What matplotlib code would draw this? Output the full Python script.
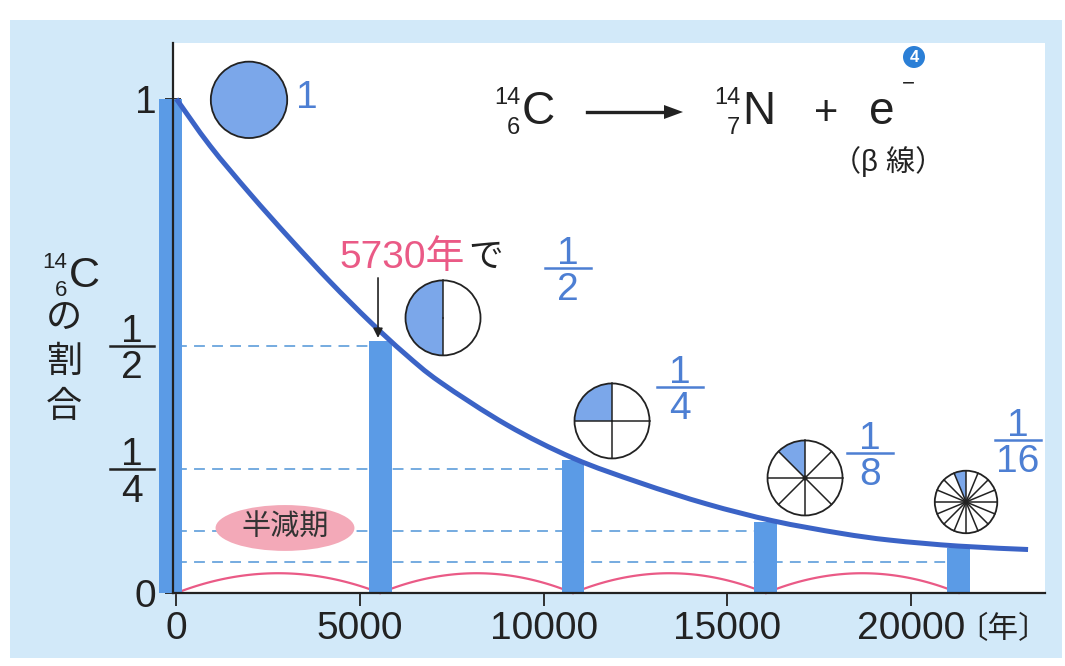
import math
import numpy as np
import matplotlib
matplotlib.use("Agg")
import matplotlib.pyplot as plt
from matplotlib import transforms as mt
from matplotlib.patches import Wedge, Circle, Ellipse, Rectangle, Polygon, PathPatch
from matplotlib.path import Path
from matplotlib.lines import Line2D

plt.rcParams['font.family'] = ['Liberation Sans', 'Noto Sans CJK JP', 'DejaVu Sans']

# ---------------- data ----------------
curve_years = [0, 918, 2007, 3096, 4185, 5274, 6227, 7179, 9004, 10800,
               12625, 14449, 16246, 18070, 19431, 21283, 23189]
curve_values = [1.0, 0.905, 0.808, 0.717, 0.630, 0.549, 0.484, 0.427, 0.340,
                0.273, 0.223, 0.180, 0.146, 0.121, 0.107, 0.095, 0.088]
bar_years = [-150, 5550, 10800, 16050, 21300]
bar_values = [1.0, 0.51, 0.27, 0.143, 0.091]
level_values = [1 / 2, 1 / 4, 1 / 8, 1 / 16]
pie_parts = [1, 2, 4, 8, 16]
x_ticks = [0, 5000, 10000, 15000, 20000]
x_tick_labels = ['0', '5000', '10000', '15000', '20000']
y_ticks = [0, 1 / 16, 1 / 8, 1 / 4, 1 / 2, 1]
y_tick_labels = ['0', '', '', '', '', '1']

# ---------------- style ----------------
LIGHT = '#d2e9f9'
BAR = '#5b9be6'
CURVE = '#3b63c6'
FILL = '#7ba7ea'
FRAC = '#4d7fd3'
PINK = '#ea5a86'
PINK_FILL = '#f3a9b8'
DASH = '#6aa5dd'
TEXT = '#222222'

W, H = 1065, 666
fig = plt.figure(figsize=(W / 100, H / 100), dpi=100)
fig.patch.set_facecolor('white')


def P(px, py):
    return (px / W, 1 - py / H)


fig.patches.append(Rectangle(P(10, 658), (1062 - 10) / W, (658 - 20) / H,
                             transform=fig.transFigure, facecolor=LIGHT,
                             edgecolor='none', zorder=-5))

ax = fig.add_axes([173 / W, 1 - 593 / H, (1045 - 173) / W, (593 - 43) / H])
ax.set_facecolor('white')
ax.set_zorder(1)
ax.set_xlim(-90, 23650)
ax.set_ylim(0, 1.113)
for s in ['top', 'right']:
    ax.spines[s].set_visible(False)
for s in ['left', 'bottom']:
    ax.spines[s].set_linewidth(1.6)
    ax.spines[s].set_color(TEXT)
    ax.spines[s].set_zorder(6)

ax.set_xticks(x_ticks)
ax.set_xticklabels(x_tick_labels)
ax.set_yticks(y_ticks)
ax.set_yticklabels(y_tick_labels)
ax.tick_params(axis='x', direction='out', length=9, width=1.3, pad=4,
               labelsize=28, colors=TEXT)
ax.tick_params(axis='y', direction='inout', length=12, width=1.3, pad=6,
               labelsize=28, colors=TEXT)

# dashed guide levels, each running to its bar
for lv, bx in zip(level_values, bar_years[1:]):
    ax.plot([0, bx], [lv, lv], color=DASH, lw=1.3, dashes=(6, 4), zorder=1)

# pink arcs between bars (half-life brackets)
arc_h = 0.04
for a, b in zip(bar_years[:-1], bar_years[1:]):
    a2 = max(a, 0)
    xs = [a2 + (b - a2) * i / 60 for i in range(61)]
    ys = [4 * arc_h * ((x - a2) / (b - a2)) * (1 - (x - a2) / (b - a2)) for x in xs]
    ax.plot(xs, ys, color=PINK, lw=1.6, zorder=2, clip_on=False)

# bars
ax.bar(bar_years, bar_values, width=620, color=BAR, zorder=3, clip_on=False)

# decay curve, drawn as a smooth Bezier chain through the read points
pts = np.column_stack([curve_years, curve_values]).astype(float)
verts = [pts[0]]
codes = [Path.MOVETO]
for i in range(len(pts) - 1):
    p0 = pts[i - 1] if i > 0 else pts[i]
    p1, p2 = pts[i], pts[i + 1]
    p3 = pts[i + 2] if i + 2 < len(pts) else pts[i + 1]
    verts += [p1 + (p2 - p0) / 6, p2 - (p3 - p1) / 6, p2]
    codes += [Path.CURVE4] * 3
ax.add_patch(PathPatch(Path(verts, codes), fc='none', ec=CURVE, lw=3.6,
                       zorder=5, capstyle='butt'))


def local_tr(x, y, base):
    return mt.Affine2D().scale(fig.dpi / 72) + mt.ScaledTranslation(x, y, base)


def pie_icon(x, y, n, r):
    tr = local_tr(x, y, ax.transData)
    if n == 1:
        ax.add_patch(Circle((0, 0), r, fc=FILL, ec=TEXT, lw=1.3,
                            transform=tr, zorder=7, clip_on=False))
        return
    ax.add_patch(Circle((0, 0), r, fc='white', ec='none', transform=tr,
                        zorder=7, clip_on=False))
    ax.add_patch(Wedge((0, 0), r, 90, 90 + 360 / n, fc=FILL, ec='none',
                       transform=tr, zorder=7, clip_on=False))
    for k in range(n):
        ang = math.radians(90 + k * 360 / n)
        ax.add_line(Line2D([0, r * math.cos(ang)], [0, r * math.sin(ang)],
                           color=TEXT, lw=1.1, transform=tr, zorder=8,
                           clip_on=False))
    if n >= 8:
        ax.add_patch(Circle((0, 0), 1.8, fc=TEXT, ec='none', transform=tr,
                            zorder=8, clip_on=False))
    ax.add_patch(Circle((0, 0), r, fc='none', ec=TEXT, lw=1.3, transform=tr,
                        zorder=8, clip_on=False))


def frac(x, y, num, den, base, color, fs, w, lw=1.8, gap=3):
    tr = local_tr(x, y, base)
    ax.add_line(Line2D([-w / 2, w / 2], [0, 0], color=color, lw=lw,
                       transform=tr, zorder=9, clip_on=False))
    ax.text(0, gap, num, transform=tr, ha='center', va='baseline',
            color=color, fontsize=fs, zorder=9, clip_on=False)
    ax.text(0, -gap, den, transform=tr, ha='center', va='top',
            color=color, fontsize=fs, zorder=9, clip_on=False)


def px2data(px, py):
    return ((px - 176.3) / 0.03673, (593 - py) / 494)


# pie icons
icon_px = [(249, 100, 27.5), (443, 318, 27), (612, 421, 27), (805, 478, 27),
           (966, 502, 22.5)]
for (px, py, r), n in zip(icon_px, pie_parts):
    x, y = px2data(px, py)
    pie_icon(x, y, n, r)

# blue fraction labels next to the icons
x, y = px2data(307, 98)
ax.text(x, y, '1', color=FRAC, fontsize=28, ha='center', va='center')
frac_px = [(568, 268, '1', '2'), (680, 387, '1', '4'), (870, 453, '1', '8'),
           (1018, 440, '1', '16')]
for px, py, nu, de in frac_px:
    x, y = px2data(px, py)
    frac(x, y, nu, de, ax.transData, FRAC, 28, 33)

# y-axis fraction tick labels
ytr = ax.get_yaxis_transform()
frac(-41 / 872, 1 / 2, '1', '2', ytr, TEXT, 28, 31)
frac(-41 / 872, 1 / 4, '1', '4', ytr, TEXT, 28, 31)

# 5730年で 1/2 annotation
x, y = px2data(465, 258)
ax.text(x, y, '5730年', color=PINK, fontsize=28, ha='right', va='center')
x, y = px2data(468, 258)
ax.text(x, y, 'で', color=TEXT, fontsize=25, ha='left', va='center')
x0, y0 = px2data(378, 278)
x1, y1 = px2data(378, 338)
ax.annotate('', xy=(x1, y1), xytext=(x0, y0),
            arrowprops=dict(arrowstyle='-|>', color=TEXT, lw=1.2,
                            mutation_scale=14, shrinkA=0, shrinkB=0),
            zorder=9)

# 半減期 label
x, y = px2data(285, 528)
tr = local_tr(x, y, ax.transData)
ax.add_patch(Ellipse((0, 0), 100, 33, fc=PINK_FILL, ec='none', transform=tr,
                     zorder=6, clip_on=False))
ax.text(0, 0, '半減期', transform=tr, ha='center', va='center', color='#333333',
        fontsize=21, zorder=7)

# x unit
fig.text(*P(1003, 630), '〔年〕', ha='center', va='center', fontsize=22,
         color=TEXT)

# y axis title (vertical)
fig.text(*P(84, 276), 'C', ha='center', va='center', fontsize=31, color=TEXT)
fig.text(*P(67, 262), '14', ha='right', va='center', fontsize=16, color=TEXT)
fig.text(*P(67, 290), '6', ha='right', va='center', fontsize=16, color=TEXT)
for ch, py in zip(['の', '割', '合'], [318, 362, 407]):
    fig.text(*P(64, py), ch, ha='center', va='center', fontsize=26, color=TEXT)


# reaction equation
def nuclide(px, py, A, Z, sym, fs=33, sfs=17):
    fig.text(*P(px, py), sym, ha='left', va='center', fontsize=fs, color=TEXT)
    fig.text(*P(px - 2, py - 14), A, ha='right', va='center', fontsize=sfs, color=TEXT)
    fig.text(*P(px - 2, py + 16), Z, ha='right', va='center', fontsize=sfs, color=TEXT)


nuclide(522, 112, '14', '6', 'C')
fig.add_artist(Line2D([587 / W, 670 / W], [1 - 112 / H, 1 - 112 / H],
                      color=TEXT, lw=2.4, transform=fig.transFigure))
fig.patches.append(Polygon([P(683, 112), P(664, 105), P(664, 119)], closed=True,
                           fc=TEXT, ec='none', transform=fig.transFigure))
nuclide(742, 112, '14', '7', 'N')
fig.text(*P(826, 114), '+', ha='center', va='center', fontsize=30, color=TEXT)
fig.text(*P(882, 112), 'e', ha='center', va='center', fontsize=33, color=TEXT)
fig.text(*P(908, 84), '−', ha='center', va='center', fontsize=16, color=TEXT)
fig.patches.append(Ellipse(P(914, 57), 22 / W, 22 / H, transform=fig.transFigure,
                           fc='#2b7fd6', ec='none', zorder=3))
fig.text(*P(914, 58), '4', ha='center', va='center', fontsize=12,
         color='white', fontweight='bold', zorder=4)
fig.text(*P(888, 162), '（β 線）', ha='center', va='center', fontsize=21,
         color=TEXT)

fig.savefig('out.png', dpi=100)
